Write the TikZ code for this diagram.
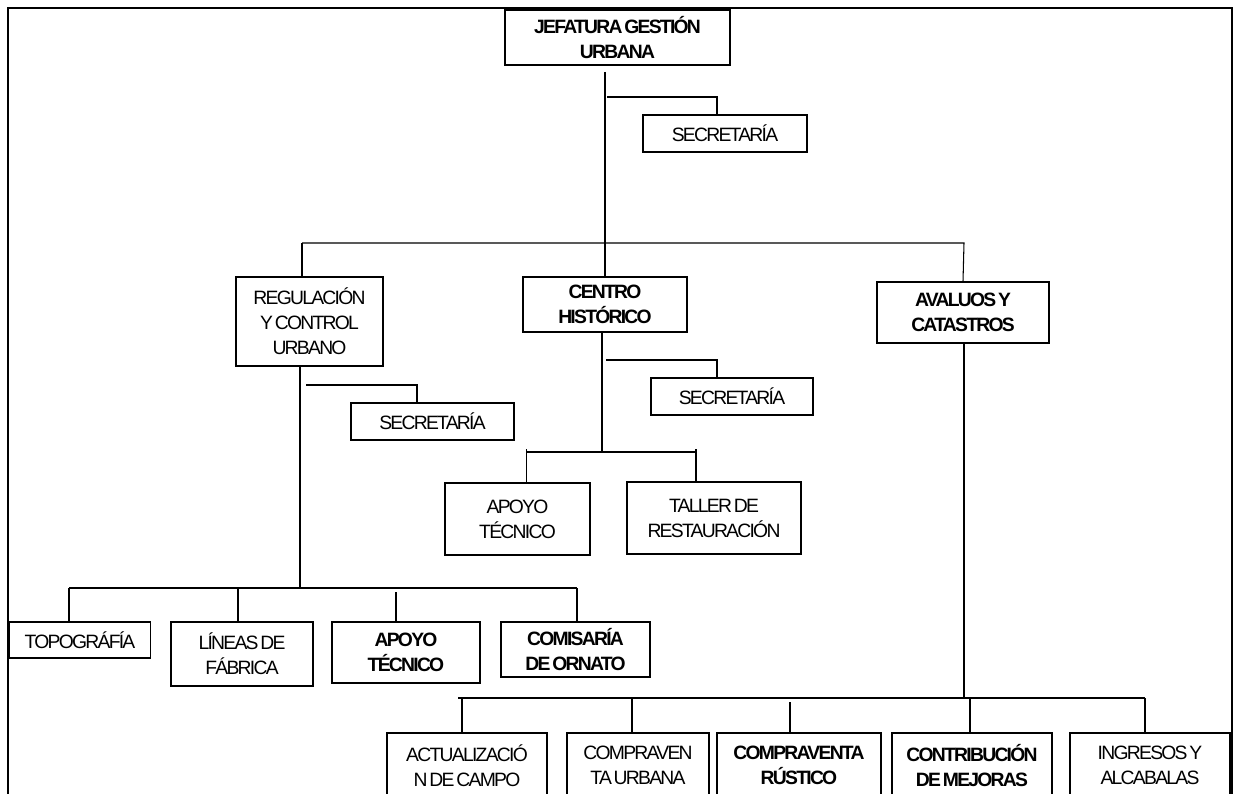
\documentclass[tikz,border=0pt]{standalone}
\usepackage{fontspec}
\setmainfont{Liberation Sans}[LetterSpace=-9,WordSpace=0.5]
\usepackage{tikz}
\usetikzlibrary{positioning, calc}

\begin{document}
\begin{tikzpicture}[x=0.02cm, y=-0.02cm,
    unit/.style={draw, line width=0.6pt, align=center, inner sep=0pt,
                 font=\fontsize{11}{14.2}\selectfont},
    unitb/.style={unit, font=\fontsize{11}{14.2}\selectfont\bfseries},
    link/.style={line width=0.6pt}]
  \useasboundingbox (0,0) rectangle (1235,794);
  \clip (0,0) rectangle (1235,794);

  % Frame
  \draw[line width=0.8pt] (8,8) rectangle (1232,820);

  % Top level
  \node[unitb, minimum width=4.5cm, minimum height=1.1cm] (jefe) at (617.5,37.5) {JEFATURA GESTIÓN\\URBANA};
  \node[unit, minimum width=3.28cm, minimum height=0.74cm] (sec1) at (725,133.5) {SECRETARÍA};

  % Second level
  \node[unit, minimum width=2.94cm, minimum height=1.78cm] (reg) at (309.5,321.5) {REGULACIÓN\\Y CONTROL\\URBANO};
  \node[unitb, minimum width=3.28cm, minimum height=1.1cm] (cen) at (605,304.5) {CENTRO\\HISTÓRICO};
  \node[unitb, minimum width=3.44cm, minimum height=1.22cm] (ava) at (963,312.5) {AVALUOS Y\\CATASTROS};

  % Secretarías and Centro Histórico units
  \node[unit, minimum width=3.26cm, minimum height=0.74cm] (sec2) at (432.5,421.5) {SECRETARÍA};
  \node[unit, minimum width=3.24cm, minimum height=0.74cm] (sec3) at (732,396.5) {SECRETARÍA};
  \node[unit, minimum width=2.9cm, minimum height=1.44cm] (apo1) at (517.5,519) {APOYO\\TÉCNICO};
  \node[unit, minimum width=3.48cm, minimum height=1.44cm] (tal) at (714,518) {TALLER DE\\RESTAURACIÓN};

  % Regulación units
  \node[unit, minimum width=2.83cm, minimum height=0.72cm] (topo) at (80,640) {TOPOGRÁFÍA};
  \node[unit, minimum width=2.84cm, minimum height=1.28cm] (lin) at (242,654) {LÍNEAS DE\\FÁBRICA};
  \node[unitb, minimum width=2.96cm, minimum height=1.22cm] (apo2) at (406,652.5) {APOYO\\TÉCNICO};
  \node[unitb, minimum width=2.98cm, minimum height=1.1cm] (com) at (575.5,649.5) {COMISARÍA\\DE ORNATO};

  % Avalúos units
  \node[unit, minimum width=3.2cm, minimum height=1.3cm] (act) at (467,765.5) {ACTUALIZACIÓ\\N DE CAMPO};
  \node[unit, minimum width=2.84cm, minimum height=1.3cm] (cpu) at (638,765.5) {COMPRAVEN\\TA URBANA};
  \node[unitb, minimum width=3.28cm, minimum height=1.3cm] (cpr) at (799,765.5) {COMPRAVENTA\\RÚSTICO};
  \node[unitb, minimum width=3.2cm, minimum height=1.3cm] (con) at (972,765.5) {CONTRIBUCIÓN\\DE MEJORAS};
  \node[unit, minimum width=3.2cm, minimum height=1.3cm] (ing) at (1150,765.5) {INGRESOS Y\\ALCABALAS};

  % Jefatura connectors
  \coordinate (j0) at (605,72);
  \coordinate (b1l) at (302,243);
  \coordinate (b1r) at (964,243);
  \draw[link] (j0) -- (cen.north);
  \draw[link] (607,97) -- (717,97) -- (717,0 |- sec1.north);
  \draw[link] (b1l) -- (b1r) -- (ava.north);
  \draw[link] (b1l) -- (b1l |- reg.north);

  % Regulación connectors
  \coordinate (r0) at (300,588);
  \draw[link] (reg.south -| r0) -- (r0);
  \draw[link] (306,385) -- (417,385) -- (417,0 |- sec2.north);
  \draw[link] (69,588) -- (577,588);
  \foreach \n/\x in {topo/69, lin/238, com/577}
    \draw[link] (\x,588) -- (\x,0 |- \n.north);
  \draw[link] (396,592) -- (396,0 |- apo2.north);

  % Centro Histórico connectors
  \coordinate (c0) at (602,452);
  \draw[link] (cen.south -| c0) -- (c0);
  \draw[link] (606,360) -- (717,360) -- (717,0 |- sec3.north);
  \draw[link] (526.5,452) -- (696,452);
  \draw[link] (526.5,449) -- (526.5,0 |- apo1.north);
  \draw[link] (696,449) -- (696,0 |- tal.north);

  % Avalúos connectors
  \coordinate (a0) at (964,698);
  \draw[link] (ava.south -| a0) -- (a0);
  \draw[link] (458,698) -- (1145,698);
  \foreach \n/\x in {act/462, cpu/632, con/970, ing/1145}
    \draw[link] (\x,698) -- (\x,0 |- \n.north);
  \draw[link] (790,702) -- (790,0 |- cpr.north);
\end{tikzpicture}
\end{document}
